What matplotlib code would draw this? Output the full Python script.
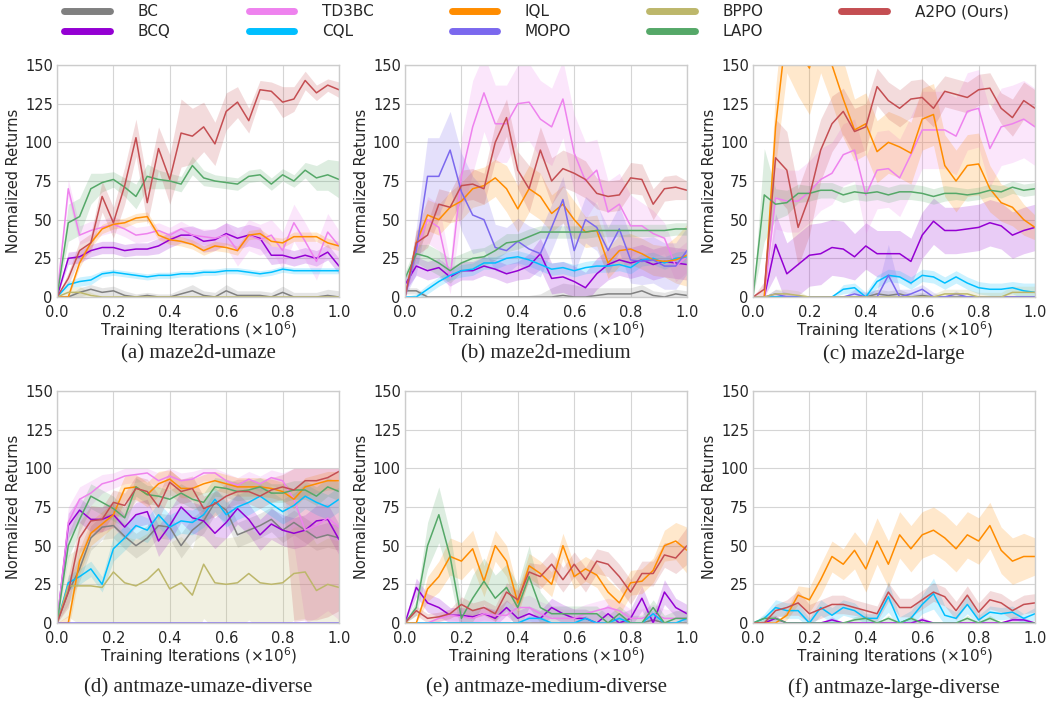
import matplotlib.pyplot as plt
import numpy as np
from matplotlib.lines import Line2D

METHODS = ["BC", "BCQ", "TD3BC", "CQL", "IQL", "MOPO", "BPPO", "LAPO", "A2PO (Ours)"]
COLORS = {"BC": "#808080", "BCQ": "#9400D3", "TD3BC": "#EE82EE", "CQL": "#00BFFF",
          "IQL": "#FF8C00", "MOPO": "#7B68EE", "BPPO": "#BDB76B", "LAPO": "#55A868",
          "A2PO (Ours)": "#C44E52"}

# evaluation points, every 0.04 x 1e6 iterations
iters = np.arange(26) * 0.04

# (a) maze2d-umaze
umaze = {
    "BC":    [0, 0, 3, 5, 3, 4, 1, 0, 1, 0, 0, 2, 4, 1, 0, 4, 1, 1, 1, 0, 3, 0, 0, 0, 1, 0],
    "BCQ":   [0, 25, 26, 30, 32, 32, 30, 31, 31, 33, 37, 40, 40, 36, 37, 41, 38, 40, 38, 27, 27, 25, 27, 25, 29, 20],
    "TD3BC": [0, 70, 40, 43, 45, 47, 44, 40, 41, 43, 40, 44, 40, 39, 38, 40, 30, 40, 37, 40, 30, 48, 36, 23, 42, 33],
    "CQL":   [0, 8, 10, 11, 15, 16, 15, 14, 13, 14, 14, 15, 15, 16, 16, 17, 17, 16, 15, 16, 18, 17, 17, 17, 17, 17],
    "IQL":   [0, 0, 22, 35, 44, 47, 48, 51, 52, 40, 37, 36, 34, 30, 33, 32, 30, 40, 41, 36, 35, 39, 39, 39, 35, 33],
    "BPPO":  [0, 3, 3, 1, 0, 0, 0, 0, 0, 0, 0, 0, 0, 0, 0, 0, 0, 0, 0, 0, 0, 0, 0, 0, 0, 0],
    "LAPO":  [0, 48, 52, 70, 74, 76, 71, 65, 78, 76, 75, 73, 85, 77, 75, 74, 73, 78, 79, 73, 79, 75, 82, 77, 79, 76],
    "A2PO (Ours)": [0, 12, 30, 35, 65, 48, 72, 103, 61, 96, 76, 106, 104, 110, 99, 120, 126, 114, 134, 133, 126, 128, 140, 132, 137, 134],
}
umaze_sd = {
    "BC":    [0, 1, 3, 3, 3, 3, 3, 2, 2, 2, 2, 3, 4, 3, 3, 4, 3, 3, 3, 3, 4, 3, 3, 3, 4, 4],
    "BCQ":   [0, 4, 4, 4, 4, 4, 4, 4, 4, 5, 5, 5, 6, 7, 7, 7, 7, 7, 7, 6, 5, 5, 5, 5, 5, 5],
    "TD3BC": [0, 6, 6, 6, 5, 5, 5, 5, 5, 5, 5, 5, 5, 5, 6, 8, 10, 10, 10, 10, 12, 12, 12, 12, 12, 10],
    "CQL":   [0, 2, 3, 3, 2, 2, 2, 2, 2, 2, 2, 2, 2, 2, 2, 2, 2, 2, 2, 2, 2, 2, 2, 2, 2, 2],
    "IQL":   [0, 1, 3, 3, 3, 3, 3, 3, 3, 3, 3, 3, 3, 3, 3, 3, 3, 3, 3, 3, 3, 3, 3, 3, 3, 3],
    "BPPO":  [0, 3, 4, 2, 0, 0, 0, 0, 0, 0, 0, 0, 0, 0, 0, 0, 0, 0, 0, 0, 0, 0, 0, 0, 0, 0],
    "LAPO":  [0, 12, 12, 10, 6, 5, 6, 8, 8, 6, 5, 5, 6, 5, 4, 4, 4, 4, 4, 4, 4, 4, 5, 8, 10, 12],
    "A2PO (Ours)": [0, 4, 6, 6, 10, 10, 12, 12, 14, 14, 16, 22, 18, 16, 14, 12, 10, 8, 6, 6, 10, 8, 6, 5, 4, 5],
}

# (b) maze2d-medium
medium = {
    "BC":    [4, 4, 0, 0, 0, 0, 0, 0, 0, 0, 0, 0, 0, 0, 1, 0, 0, 1, 2, 2, 2, 4, 1, 0, 2, 1],
    "BCQ":   [8, 20, 17, 19, 13, 17, 17, 20, 18, 15, 17, 20, 28, 12, 13, 10, 6, 15, 21, 24, 22, 24, 21, 23, 22, 21],
    "TD3BC": [0, 30, 50, 45, 12, 78, 110, 132, 112, 112, 125, 126, 115, 110, 128, 93, 75, 82, 55, 60, 46, 46, 41, 38, 20, 26],
    "CQL":   [0, 0, 5, 10, 14, 17, 18, 22, 22, 25, 26, 24, 21, 18, 19, 17, 19, 20, 20, 21, 19, 24, 25, 22, 25, 26],
    "IQL":   [0, 35, 53, 50, 58, 62, 70, 72, 77, 70, 57, 70, 65, 54, 60, 50, 42, 43, 22, 30, 31, 28, 24, 23, 24, 27],
    "MOPO":  [0, 30, 78, 78, 95, 68, 53, 50, 32, 30, 36, 31, 28, 45, 63, 30, 50, 45, 30, 44, 24, 23, 24, 20, 20, 30],
    "LAPO":  [12, 28, 26, 22, 17, 22, 25, 26, 30, 35, 36, 39, 42, 42, 42, 42, 42, 43, 43, 43, 43, 43, 43, 43, 44, 44],
    "A2PO (Ours)": [0, 35, 40, 60, 58, 72, 73, 70, 100, 116, 82, 70, 95, 75, 83, 80, 76, 67, 65, 66, 77, 76, 60, 70, 71, 69],
}
medium_sd = {
    "BC":    [2, 2, 1, 1, 1, 1, 1, 1, 1, 1, 1, 1, 2, 6, 8, 8, 6, 5, 4, 4, 4, 4, 3, 3, 3, 3],
    "BCQ":   [4, 6, 6, 6, 6, 6, 6, 6, 6, 6, 6, 8, 10, 10, 10, 10, 10, 10, 10, 10, 10, 10, 10, 10, 10, 10],
    "TD3BC": [0, 10, 15, 15, 10, 25, 30, 25, 25, 25, 25, 25, 25, 25, 25, 25, 25, 20, 20, 20, 20, 15, 15, 10, 10, 10],
    "CQL":   [0, 2, 3, 3, 3, 4, 4, 4, 4, 4, 4, 4, 4, 4, 4, 4, 4, 4, 4, 4, 4, 4, 4, 4, 4, 4],
    "IQL":   [0, 8, 10, 10, 10, 12, 12, 12, 12, 15, 15, 15, 15, 12, 12, 12, 10, 10, 10, 10, 10, 10, 10, 10, 15, 20],
    "MOPO":  [0, 15, 25, 25, 25, 25, 25, 20, 15, 15, 15, 15, 15, 15, 15, 15, 15, 15, 15, 15, 15, 15, 15, 15, 15, 15],
    "LAPO":  [4, 6, 8, 8, 8, 6, 6, 6, 6, 6, 5, 5, 4, 4, 4, 4, 4, 4, 4, 4, 4, 4, 4, 4, 4, 4],
    "A2PO (Ours)": [0, 8, 8, 10, 10, 10, 10, 10, 12, 12, 12, 15, 15, 15, 12, 12, 12, 10, 10, 10, 10, 10, 10, 8, 8, 6],
}

# (c) maze2d-large
large = {
    "BC":    [0, 0, 0, 0, 0, 0, 0, 0, 0, 0, 0, 2, 1, 2, 0, 1, 0, 0, 0, 0, 0, 0, 0, 0, 0, 0],
    "BCQ":   [0, 0, 34, 15, 21, 27, 28, 32, 31, 26, 33, 28, 28, 28, 23, 40, 49, 43, 43, 44, 45, 48, 46, 40, 43, 45],
    "TD3BC": [0, 0, 64, 62, 62, 68, 76, 80, 92, 95, 66, 82, 83, 77, 92, 108, 108, 108, 104, 120, 122, 96, 110, 112, 115, 110],
    "CQL":   [0, 0, 0, 0, 0, 0, 0, 0, 5, 6, 0, 10, 14, 13, 9, 14, 13, 9, 13, 9, 6, 5, 5, 6, 4, 3],
    "IQL":   [0, 0, 110, 175, 160, 148, 175, 150, 128, 108, 112, 94, 100, 97, 93, 115, 118, 85, 75, 85, 86, 70, 61, 58, 50, 45],
    "MOPO":  [0, 0, 2, 0, 0, 0, 0, 0, 0, 2, 0, 0, 14, 0, 2, 5, 0, 0, 2, 0, 0, 0, 0, 0, 0, 0],
    "BPPO":  [0, 0, 2, 2, 1, 0, 0, 0, 0, 0, 0, 0, 0, 0, 0, 0, 0, 2, 2, 2, 0, 0, 0, 3, 3, 3],
    "LAPO":  [0, 66, 60, 61, 67, 67, 69, 69, 66, 68, 67, 68, 66, 68, 68, 67, 65, 67, 67, 66, 67, 69, 68, 71, 69, 70],
    "A2PO (Ours)": [0, 5, 90, 82, 45, 65, 95, 112, 120, 107, 110, 136, 127, 122, 128, 129, 122, 133, 131, 129, 134, 135, 122, 116, 127, 122],
}
large_sd = {
    "BC":    [0, 0, 0, 0, 0, 0, 0, 0, 0, 0, 2, 3, 3, 3, 2, 2, 1, 1, 1, 1, 1, 1, 1, 1, 1, 1],
    "BCQ":   [0, 0, 20, 20, 20, 20, 20, 18, 18, 15, 15, 15, 15, 15, 15, 15, 15, 15, 15, 15, 15, 15, 15, 15, 15, 15],
    "TD3BC": [0, 0, 20, 20, 20, 20, 20, 20, 20, 20, 25, 25, 25, 25, 25, 25, 25, 25, 25, 25, 25, 25, 25, 25, 25, 25],
    "CQL":   [0, 0, 0, 0, 0, 0, 0, 0, 3, 3, 3, 4, 4, 4, 4, 4, 4, 4, 4, 4, 4, 4, 4, 4, 5, 6],
    "IQL":   [0, 0, 25, 30, 30, 30, 30, 25, 25, 20, 20, 20, 20, 20, 20, 20, 20, 20, 20, 20, 20, 15, 12, 12, 10, 8],
    "MOPO":  [0, 0, 3, 3, 0, 0, 0, 0, 0, 3, 3, 5, 20, 5, 3, 3, 3, 0, 2, 0, 0, 0, 0, 0, 0, 0],
    "BPPO":  [0, 0, 3, 3, 3, 0, 0, 0, 0, 0, 0, 0, 0, 0, 0, 0, 2, 3, 3, 3, 3, 3, 3, 4, 4, 4],
    "LAPO":  [0, 30, 10, 8, 6, 5, 5, 5, 5, 5, 5, 5, 5, 5, 5, 5, 5, 5, 4, 4, 4, 4, 4, 4, 4, 4],
    "A2PO (Ours)": [0, 5, 25, 25, 25, 25, 20, 18, 15, 15, 15, 12, 12, 12, 12, 12, 12, 10, 10, 10, 10, 10, 10, 12, 12, 12],
}

# (d) antmaze-umaze-diverse
ant_umaze = {
    "BC":    [0, 20, 35, 55, 62, 63, 56, 50, 55, 63, 62, 50, 60, 66, 78, 73, 57, 60, 63, 67, 60, 65, 60, 55, 57, 55],
    "BCQ":   [0, 63, 73, 67, 67, 70, 62, 70, 72, 53, 63, 75, 68, 66, 58, 65, 74, 67, 57, 64, 60, 58, 60, 66, 67, 54],
    "TD3BC": [0, 65, 80, 84, 90, 92, 95, 96, 97, 92, 95, 92, 93, 97, 97, 92, 89, 93, 90, 94, 92, 80, 60, 63, 68, 62],
    "CQL":   [0, 26, 30, 35, 25, 48, 55, 63, 60, 70, 62, 66, 65, 70, 80, 70, 75, 78, 82, 77, 72, 76, 82, 78, 75, 80],
    "IQL":   [0, 0, 40, 58, 64, 70, 87, 88, 83, 90, 93, 87, 87, 90, 92, 90, 88, 88, 88, 87, 85, 80, 88, 90, 92, 92],
    "MOPO":  [0, 0, 0, 0, 0, 0, 0, 0, 0, 0, 0, 0, 0, 0, 0, 0, 0, 0, 0, 0, 0, 0, 0, 0, 0, 0],
    "BPPO":  [0, 24, 24, 24, 23, 33, 26, 24, 28, 35, 22, 26, 18, 38, 26, 25, 26, 32, 26, 25, 26, 32, 33, 21, 25, 23],
    "LAPO":  [0, 50, 67, 82, 78, 74, 68, 88, 83, 82, 80, 84, 80, 78, 88, 87, 85, 86, 88, 84, 84, 86, 86, 82, 88, 85],
    "A2PO (Ours)": [0, 20, 55, 66, 67, 78, 76, 87, 85, 75, 91, 85, 87, 74, 77, 82, 85, 85, 82, 86, 88, 86, 92, 92, 94, 98],
}
ant_umaze_sd = {
    "BC":    [0, 8, 8, 8, 8, 8, 8, 8, 8, 8, 8, 8, 8, 8, 8, 8, 8, 8, 8, 8, 8, 8, 8, 8, 8, 8],
    "BCQ":   [0, 8, 8, 8, 8, 8, 8, 8, 8, 10, 10, 10, 10, 10, 10, 10, 10, 10, 10, 10, 10, 10, 10, 10, 10, 10],
    "TD3BC": [0, 10, 8, 8, 6, 5, 5, 5, 5, 5, 5, 5, 5, 5, 5, 5, 5, 5, 5, 5, 5, 30, 60, 60, 60, 60],
    "CQL":   [0, 5, 5, 5, 5, 8, 8, 8, 8, 8, 8, 8, 8, 8, 8, 8, 8, 8, 8, 8, 8, 8, 8, 8, 8, 8],
    "IQL":   [0, 5, 8, 8, 8, 8, 8, 8, 8, 8, 6, 6, 6, 6, 6, 6, 6, 6, 6, 6, 6, 6, 6, 6, 6, 6],
    "MOPO":  [0, 0, 0, 0, 0, 0, 0, 0, 0, 0, 0, 0, 0, 0, 0, 0, 0, 0, 0, 0, 0, 0, 0, 0, 0, 0],
    "BPPO":  [0, 20, 25, 25, 30, 35, 30, 30, 30, 35, 30, 30, 30, 35, 30, 30, 30, 30, 30, 30, 30, 30, 30, 30, 30, 30],
    "LAPO":  [0, 8, 8, 8, 8, 8, 6, 6, 6, 6, 6, 6, 6, 6, 6, 6, 6, 6, 6, 6, 6, 6, 6, 6, 6, 6],
    "A2PO (Ours)": [0, 10, 10, 10, 8, 8, 8, 8, 8, 8, 8, 8, 8, 8, 8, 8, 8, 8, 8, 8, 8, 85, 90, 90, 90, 90],
}

# (e) antmaze-medium-diverse
ant_medium = {
    "BC":    [0, 0, 0, 0, 0, 0, 0, 0, 0, 0, 0, 0, 0, 0, 0, 0, 0, 0, 0, 0, 0, 0, 2, 0, 0, 0],
    "BCQ":   [0, 23, 13, 10, 5, 5, 4, 6, 3, 10, 3, 6, 3, 10, 6, 3, 3, 0, 6, 0, 3, 16, 0, 20, 10, 6],
    "TD3BC": [0, 0, 0, 3, 5, 4, 3, 6, 5, 5, 10, 10, 6, 3, 3, 3, 6, 8, 10, 8, 3, 3, 6, 3, 3, 3],
    "CQL":   [0, 0, 0, 0, 0, 0, 0, 0, 0, 0, 0, 3, 3, 0, 0, 0, 3, 0, 0, 3, 0, 0, 6, 0, 0, 3],
    "IQL":   [0, 0, 22, 30, 43, 40, 48, 27, 50, 40, 13, 37, 32, 25, 50, 30, 35, 31, 20, 13, 26, 27, 34, 50, 53, 47],
    "LAPO":  [0, 10, 50, 70, 43, 3, 16, 27, 16, 23, 10, 30, 10, 6, 6, 6, 6, 6, 0, 6, 0, 0, 10, 0, 3, 3],
    "A2PO (Ours)": [0, 8, 3, 4, 6, 12, 8, 10, 6, 20, 15, 33, 30, 38, 28, 38, 28, 40, 38, 30, 20, 32, 32, 44, 42, 50],
}
ant_medium_sd = {
    "BC":    [0, 0, 0, 0, 0, 0, 0, 0, 0, 0, 0, 0, 0, 0, 0, 0, 0, 0, 0, 0, 0, 0, 2, 0, 0, 0],
    "BCQ":   [0, 6, 6, 6, 5, 5, 5, 5, 5, 5, 5, 5, 5, 6, 6, 6, 6, 6, 6, 6, 6, 8, 6, 8, 6, 6],
    "TD3BC": [0, 0, 0, 2, 3, 3, 3, 4, 4, 5, 6, 8, 8, 8, 6, 6, 6, 6, 6, 6, 6, 6, 6, 6, 5, 5],
    "CQL":   [0, 0, 0, 0, 0, 0, 0, 0, 0, 0, 0, 2, 2, 0, 0, 0, 2, 0, 0, 2, 0, 0, 3, 0, 0, 2],
    "IQL":   [0, 0, 8, 10, 12, 12, 12, 10, 10, 10, 8, 8, 8, 8, 8, 8, 8, 8, 8, 8, 8, 8, 8, 10, 12, 15],
    "LAPO":  [0, 5, 15, 18, 15, 10, 15, 15, 15, 15, 15, 20, 10, 5, 5, 5, 5, 5, 5, 5, 5, 5, 5, 5, 5, 5],
    "A2PO (Ours)": [0, 3, 3, 3, 3, 5, 5, 5, 5, 6, 6, 6, 8, 8, 8, 8, 8, 8, 8, 8, 8, 8, 8, 8, 10, 12],
}

# (f) antmaze-large-diverse
ant_large = {
    "BCQ":   [0, 0, 3, 0, 0, 0, 0, 2, 0, 0, 0, 0, 0, 0, 0, 2, 0, 0, 0, 0, 0, 0, 0, 2, 2, 0],
    "CQL":   [0, 3, 10, 8, 8, 0, 10, 5, 10, 8, 3, 3, 17, 0, 3, 12, 19, 5, 3, 12, 2, 7, 6, 7, 3, 6],
    "IQL":   [0, 0, 0, 5, 18, 15, 28, 43, 38, 47, 35, 53, 38, 57, 48, 57, 60, 55, 48, 57, 53, 63, 47, 40, 43, 43],
    "LAPO":  [0, 3, 3, 0, 0, 0, 0, 0, 0, 2, 3, 0, 3, 0, 3, 0, 0, 0, 0, 3, 0, 3, 0, 0, 0, 0],
    "A2PO (Ours)": [0, 0, 8, 10, 13, 6, 9, 12, 12, 10, 8, 6, 20, 10, 10, 15, 20, 17, 8, 18, 7, 15, 13, 8, 12, 13],
}
ant_large_sd = {
    "BCQ":   [0, 0, 2, 0, 0, 0, 0, 2, 0, 0, 0, 0, 0, 0, 0, 2, 0, 0, 0, 0, 0, 0, 0, 2, 2, 0],
    "CQL":   [0, 3, 5, 5, 5, 3, 5, 5, 5, 5, 3, 3, 10, 4, 5, 6, 10, 6, 4, 6, 3, 4, 4, 4, 3, 4],
    "IQL":   [0, 0, 0, 3, 6, 8, 10, 10, 10, 12, 15, 15, 15, 15, 15, 15, 15, 15, 15, 15, 15, 15, 15, 15, 15, 12],
    "LAPO":  [0, 2, 2, 0, 0, 0, 0, 0, 0, 2, 2, 0, 2, 0, 2, 0, 0, 0, 0, 2, 0, 2, 0, 0, 0, 0],
    "A2PO (Ours)": [0, 2, 4, 5, 8, 6, 6, 6, 6, 5, 5, 5, 6, 6, 6, 6, 6, 6, 6, 6, 6, 6, 6, 6, 6, 6],
}

# antmaze scores are success rates, so the bands stop at 100
panels = [
    ("(a) maze2d-umaze", umaze, umaze_sd, None),
    ("(b) maze2d-medium", medium, medium_sd, None),
    ("(c) maze2d-large", large, large_sd, None),
    ("(d) antmaze-umaze-diverse", ant_umaze, ant_umaze_sd, 100),
    ("(e) antmaze-medium-diverse", ant_medium, ant_medium_sd, 100),
    ("(f) antmaze-large-diverse", ant_large, ant_large_sd, 100),
]

plt.style.use("seaborn-v0_8-whitegrid")
plt.rcParams["font.family"] = ["DejaVu Sans"]
plt.rcParams["axes.edgecolor"] = "#cccccc"
plt.rcParams["grid.color"] = "#d5d5d5"

W, H = 1050, 702
fig = plt.figure(figsize=(W / 100, H / 100), dpi=100)

lefts = [57, 405, 753]
tops = [65, 391]
ax_w, ax_h = 282, 232
caption_y = [354, 688]

for k, (title, means, sds, cap) in enumerate(panels):
    r, c = divmod(k, 3)
    ax = fig.add_axes([lefts[c] / W, 1 - (tops[r] + ax_h) / H, ax_w / W, ax_h / H])
    for m in METHODS:
        if m not in means:
            continue
        mu = np.array(means[m], dtype=float)
        sd = np.array(sds[m], dtype=float)
        upper = mu + sd if cap is None else np.minimum(mu + sd, cap)
        ax.fill_between(iters, mu - sd, upper, color=COLORS[m], alpha=0.2, lw=0)
        ax.plot(iters, mu, color=COLORS[m], lw=1.1)
    ax.set_xlim(0, 1)
    ax.set_ylim(0, 150)
    ax.set_xticks(np.arange(0, 1.01, 0.2))
    ax.set_yticks(range(0, 151, 25))
    ax.xaxis.set_major_formatter("{x:.1f}")
    ax.tick_params(labelsize=10.5, colors="#262626")
    ax.tick_params(axis="x", pad=5.5)
    ax.tick_params(axis="y", pad=3)
    ax.set_xlabel(r"Training Iterations ($\times10^6$)", fontsize=11, labelpad=0, color="#262626")
    ax.set_ylabel("Normalized Returns", fontsize=10.5, labelpad=3, color="#262626")
    fig.text((lefts[c] + ax_w / 2) / W, 1 - caption_y[r] / H, title,
             family="Liberation Serif", fontsize=15, ha="center", va="center")

handles = [Line2D([], [], color=COLORS[m], lw=5, solid_capstyle="round") for m in METHODS]
fig.legend(handles, METHODS, loc="upper center", bbox_to_anchor=(0.511, 0.996), ncol=5,
           frameon=False, fontsize=11, handlelength=3.0, handletextpad=1.8, columnspacing=5.1,
           labelspacing=0.3, borderaxespad=0.0, borderpad=0.1)

fig.savefig("out.png", dpi=100)
